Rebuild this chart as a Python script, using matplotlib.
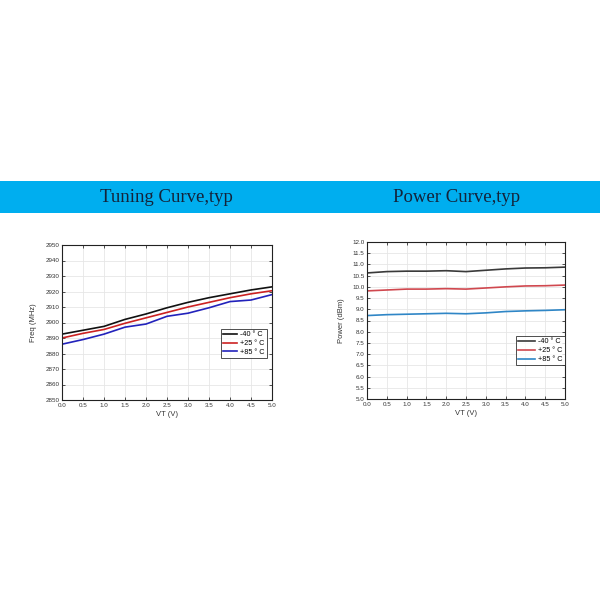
import matplotlib
matplotlib.use("Agg")
import matplotlib.pyplot as plt
from matplotlib.patches import Rectangle

vt = [0.0, 0.5, 1.0, 1.5, 2.0, 2.5, 3.0, 3.5, 4.0, 4.5, 5.0]
temps = ["-40 ° C", "+25 ° C", "+85 ° C"]

freq_m40 = [2892.5, 2895, 2897.5, 2902, 2905.5, 2909.5, 2913, 2916, 2918.5, 2921, 2923]
freq_p25 = [2890, 2893, 2895.5, 2899.5, 2903, 2906.5, 2910, 2913, 2916, 2918.5, 2920.5]
freq_p85 = [2886, 2889, 2892.5, 2897, 2899, 2904, 2906, 2909.5, 2913.5, 2914.5, 2918]

pow_m40 = [10.62, 10.68, 10.70, 10.70, 10.72, 10.68, 10.74, 10.80, 10.84, 10.85, 10.88]
pow_p25 = [9.82, 9.86, 9.90, 9.90, 9.92, 9.90, 9.95, 10.00, 10.04, 10.05, 10.08]
pow_p85 = [8.72, 8.76, 8.78, 8.80, 8.82, 8.80, 8.84, 8.90, 8.93, 8.95, 8.98]

titles = ["Tuning Curve,typ", "Power Curve,typ"]

plt.rcParams['font.family'] = ['Liberation Sans', 'DejaVu Sans']

fig = plt.figure(figsize=(6, 6), dpi=100)
fig.patch.set_facecolor("white")

# blue title band
fig.patches.append(Rectangle((0, 387/600), 1, 32/600, transform=fig.transFigure,
                             facecolor="#00AEEF", edgecolor="none", zorder=0))
fig.text(166/600, 403/600, titles[0], ha="center", va="center", fontsize=13.5,
         family="Liberation Serif", color="#14233a")
fig.text(457/600, 403/600, titles[1], ha="center", va="center", fontsize=13.5,
         family="Liberation Serif", color="#14233a")

def style(ax):
    ax.grid(True, color="#e6e6e6", linewidth=0.6)
    ax.set_axisbelow(True)
    ax.tick_params(direction="in", length=2.5, width=0.6, labelsize=4.5,
                   top=True, right=True, pad=2, colors="#333333")
    for s in ax.spines.values():
        s.set_linewidth(0.8)
        s.set_color("#222222")
    ax.set_xlim(0, 5)
    ax.set_xticks([0, 0.5, 1, 1.5, 2, 2.5, 3, 3.5, 4, 4.5, 5])
    ax.set_xticklabels([f"{v:.1f}" for v in ax.get_xticks()])
    ax.set_xlabel("VT (V)", fontsize=5.5, labelpad=2, color="#333333")

ax1 = fig.add_axes([62/600, 200/600, 210/600, 155/600])
ax1.plot(vt, freq_m40, color="#111111", lw=1.2, label=temps[0])
ax1.plot(vt, freq_p25, color="#cc2222", lw=1.2, label=temps[1])
ax1.plot(vt, freq_p85, color="#2222bb", lw=1.2, label=temps[2])
ax1.set_ylim(2850, 2950)
ax1.set_yticks(range(2850, 2951, 10))
ax1.set_ylabel("Freq (MHz)", fontsize=5.5, labelpad=6, color="#333333")
style(ax1)
leg1 = ax1.legend(loc="lower right", bbox_to_anchor=(0.975, 0.27), fontsize=5.2,
                  frameon=True, fancybox=False, edgecolor="#222222",
                  handlelength=2.0, handletextpad=0.4, borderpad=0.3, labelspacing=0.25,
                  borderaxespad=0)
leg1.get_frame().set_linewidth(0.7)

ax2 = fig.add_axes([367/600, 201/600, 198/600, 157/600])
ax2.plot(vt, pow_m40, color="#3a3a3a", lw=1.2, label=temps[0])
ax2.plot(vt, pow_p25, color="#d0484f", lw=1.2, label=temps[1])
ax2.plot(vt, pow_p85, color="#2f86c6", lw=1.2, label=temps[2])
ax2.set_ylim(5.0, 12.0)
ax2.set_yticks([5 + 0.5 * i for i in range(15)])
ax2.set_yticklabels([f"{5 + 0.5 * i:.1f}" for i in range(15)])
ax2.set_ylabel("Power (dBm)", fontsize=5.5, labelpad=5, color="#333333")
style(ax2)
leg2 = ax2.legend(loc="lower right", bbox_to_anchor=(1.0, 0.215), fontsize=5.2,
                  frameon=True, fancybox=False, edgecolor="#222222",
                  handlelength=2.4, handletextpad=0.4, borderpad=0.3, labelspacing=0.25,
                  borderaxespad=0)
leg2.get_frame().set_linewidth(0.7)

fig.savefig("out.png", dpi=100)
